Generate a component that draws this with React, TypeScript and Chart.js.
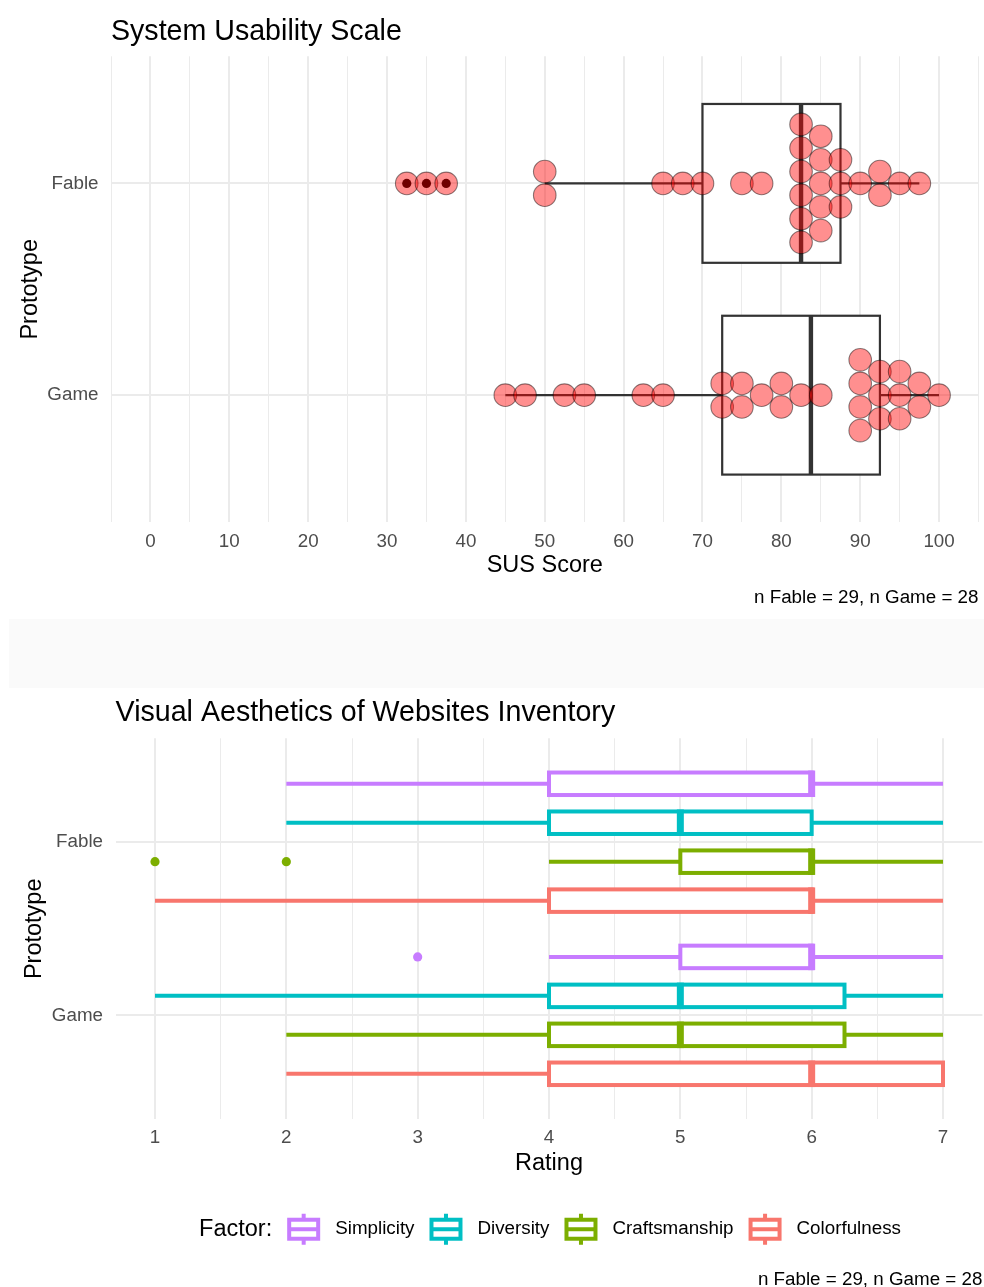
import React, { useEffect, useRef } from 'react';
import { Chart, registerables } from 'chart.js';

Chart.register(...registerables);

const FONT = '"Liberation Sans", Arial, Helvetica, sans-serif';
Chart.defaults.font.family = FONT;
Chart.defaults.color = '#000000';

// ---------- System Usability Scale data ----------
const prototypeLabels = ['Game', 'Fable']; // y positions 1, 2
const susFable = [
  32.5, 35, 37.5, 50, 50, 65, 67.5, 70, 75, 77.5,
  82.5, 82.5, 82.5, 82.5, 82.5, 82.5,
  85, 85, 85, 85, 85,
  87.5, 87.5, 87.5, 90, 92.5, 92.5, 95, 97.5,
];
const susGame = [
  45, 47.5, 52.5, 55, 62.5, 65, 72.5, 72.5, 75, 75, 77.5, 80, 80, 82.5, 85,
  90, 90, 90, 90, 92.5, 92.5, 92.5, 95, 95, 95, 97.5, 97.5, 100,
];
const susTickLabels = ['0', '10', '20', '30', '40', '50', '60', '70', '80', '90', '100'];

const factors = ['Simplicity', 'Diversity', 'Craftsmanship', 'Colorfulness'];
const factorColors = ['#C77CFF', '#00BFC4', '#7CAE00', '#F8766D'];
const fableLow = [2, 2, 4, 1];
const fableQ1 = [4, 4, 5, 4];
const fableMedian = [6, 5, 6, 6];
const fableQ3 = [6, 6, 6, 6];
const fableHigh = [7, 7, 7, 7];
const fableOutliers = [[], [], [1, 2], []];
const gameLow = [4, 1, 2, 2];
const gameQ1 = [5, 4, 4, 4];
const gameMedian = [6, 5, 5, 6];
const gameQ3 = [6, 6.25, 6.25, 7];
const gameHigh = [7, 7, 7, 7];
const gameOutliers = [[3], [], [], []];
const ratingTickLabels = ['1', '2', '3', '4', '5', '6', '7'];

const captionText = 'n Fable = 29, n Game = 28';

// ---------- helpers ----------
const GRID = '#EBEBEB';
const TICK_COLOR = '#4D4D4D';
const DOT_STEP = 0.1113; // stacking step in category units
const SUS_BOX_HALF = 0.375;
const VAWI_BOX_HALF = 0.065;
const DODGE = [0.3375, 0.1125, -0.1125, -0.3375];

function quantile(sorted: number[], p: number) {
  const h = (sorted.length - 1) * p;
  const lo = Math.floor(h);
  const hi = Math.ceil(h);
  return sorted[lo] + (h - lo) * (sorted[hi] - sorted[lo]);
}

function boxStats(values: number[]) {
  const s = [...values].sort((a, b) => a - b);
  const q1 = quantile(s, 0.25);
  const med = quantile(s, 0.5);
  const q3 = quantile(s, 0.75);
  const iqr = q3 - q1;
  const lf = q1 - 1.5 * iqr;
  const hf = q3 + 1.5 * iqr;
  const inside = s.filter((v) => v >= lf && v <= hf);
  return {
    q1, med, q3,
    lo: inside[0],
    hi: inside[inside.length - 1],
    outliers: s.filter((v) => v < lf || v > hf),
  };
}

function stackDots(values: number[], pos: number) {
  const counts = new Map<number, number>();
  values.forEach((v) => counts.set(v, (counts.get(v) || 0) + 1));
  const pts: { x: number; y: number }[] = [];
  counts.forEach((n, v) => {
    for (let i = 0; i < n; i++) pts.push({ x: v, y: pos + (i - (n - 1) / 2) * DOT_STEP });
  });
  return pts;
}

function range(a: number, b: number, step: number) {
  const out: number[] = [];
  for (let v = a; v <= b + 1e-9; v += step) out.push(Math.round(v * 1000) / 1000);
  return out;
}

const susSeries = [
  { values: susGame, pos: 1 },
  { values: susFable, pos: 2 },
];

// ---------- plugins ----------
const susBoxPlugin = {
  id: 'susBoxes',
  beforeDatasetsDraw(chart: any) {
    const { ctx } = chart;
    const x = chart.scales.x;
    const y = chart.scales.y;
    ctx.save();
    susSeries.forEach(({ values, pos }) => {
      const st = boxStats(values);
      const yc = y.getPixelForValue(pos);
      const yt = y.getPixelForValue(pos + SUS_BOX_HALF);
      const yb = y.getPixelForValue(pos - SUS_BOX_HALF);
      ctx.strokeStyle = '#333333';
      ctx.lineWidth = 2.2;
      ctx.beginPath();
      ctx.moveTo(x.getPixelForValue(st.lo), yc);
      ctx.lineTo(x.getPixelForValue(st.q1), yc);
      ctx.moveTo(x.getPixelForValue(st.q3), yc);
      ctx.lineTo(x.getPixelForValue(st.hi), yc);
      ctx.stroke();
      const x1 = x.getPixelForValue(st.q1);
      const x3 = x.getPixelForValue(st.q3);
      ctx.fillStyle = '#FFFFFF';
      ctx.fillRect(x1, yt, x3 - x1, yb - yt);
      ctx.strokeRect(x1, yt, x3 - x1, yb - yt);
      ctx.lineWidth = 4.4;
      ctx.beginPath();
      const xm = x.getPixelForValue(st.med);
      ctx.moveTo(xm, yt);
      ctx.lineTo(xm, yb);
      ctx.stroke();
    });
    ctx.restore();
  },
};

const vawiGroups = [
  { pos: 2, low: fableLow, q1: fableQ1, med: fableMedian, q3: fableQ3, high: fableHigh },
  { pos: 1, low: gameLow, q1: gameQ1, med: gameMedian, q3: gameQ3, high: gameHigh },
];

const vawiBoxPlugin = {
  id: 'vawiBoxes',
  beforeDatasetsDraw(chart: any) {
    const { ctx } = chart;
    const x = chart.scales.x;
    const y = chart.scales.y;
    ctx.save();
    ctx.lineCap = 'butt';
    vawiGroups.forEach((g) => {
      factors.forEach((_, i) => {
        const p = g.pos + DODGE[i];
        const yc = y.getPixelForValue(p);
        const yt = y.getPixelForValue(p + VAWI_BOX_HALF);
        const yb = y.getPixelForValue(p - VAWI_BOX_HALF);
        const x1 = x.getPixelForValue(g.q1[i]);
        const x3 = x.getPixelForValue(g.q3[i]);
        ctx.strokeStyle = factorColors[i];
        ctx.lineWidth = 4;
        ctx.beginPath();
        ctx.moveTo(x.getPixelForValue(g.low[i]), yc);
        ctx.lineTo(x1, yc);
        ctx.moveTo(x3, yc);
        ctx.lineTo(x.getPixelForValue(g.high[i]), yc);
        ctx.stroke();
        ctx.fillStyle = '#FFFFFF';
        ctx.fillRect(x1, yt, x3 - x1, yb - yt);
        ctx.strokeRect(x1, yt, x3 - x1, yb - yt);
        const xm = x.getPixelForValue(g.med[i]);
        ctx.lineWidth = 7;
        ctx.beginPath();
        ctx.moveTo(xm, yt - 2);
        ctx.lineTo(xm, yb + 2);
        ctx.stroke();
      });
    });
    ctx.restore();
  },
};

const factorLegendPlugin = {
  id: 'factorLegend',
  afterDraw(chart: any) {
    const { ctx, chartArea } = chart;
    const cy = chart.scales.x.bottom + 50;
    const KEY = 33;
    const GAP = 15;
    ctx.save();
    ctx.textBaseline = 'middle';
    ctx.textAlign = 'left';
    ctx.font = `23.5px ${FONT}`;
    const titleW = ctx.measureText('Factor:').width;
    ctx.font = `18.8px ${FONT}`;
    const widths = factors.map((f) => ctx.measureText(f).width);
    const total = titleW + widths.reduce((a, w) => a + w + GAP + KEY + GAP, 0);
    let cx = (chartArea.left + chartArea.right) / 2 + 1 - total / 2;
    ctx.fillStyle = '#000000';
    ctx.font = `23.5px ${FONT}`;
    ctx.fillText('Factor:', cx, cy);
    cx += titleW + GAP;
    factors.forEach((f, i) => {
      const kx = cx + KEY / 2;
      ctx.strokeStyle = factorColors[i];
      ctx.lineWidth = 4;
      ctx.beginPath();
      ctx.moveTo(kx, cy - 15.5);
      ctx.lineTo(kx, cy - 9.5);
      ctx.moveTo(kx, cy + 9.5);
      ctx.lineTo(kx, cy + 15.5);
      ctx.stroke();
      ctx.fillStyle = '#FFFFFF';
      ctx.fillRect(kx - 14.5, cy - 9.5, 29, 19);
      ctx.strokeRect(kx - 14.5, cy - 9.5, 29, 19);
      ctx.beginPath();
      ctx.moveTo(kx - 14.5, cy);
      ctx.lineTo(kx + 14.5, cy);
      ctx.stroke();
      cx += KEY + GAP;
      ctx.fillStyle = '#000000';
      ctx.font = `18.8px ${FONT}`;
      ctx.fillText(f, cx, cy);
      cx += widths[i] + GAP;
    });
    ctx.restore();
  },
};

const noEdgePadding = (s: any) => {
  s.height = 60;
  s.paddingLeft = 0;
  s.paddingRight = 0;
};

// ---------- chart configs ----------
function susConfig(): any {
  const outlierPts: { x: number; y: number }[] = [];
  susSeries.forEach(({ values, pos }) => {
    boxStats(values).outliers.forEach((v) => outlierPts.push({ x: v, y: pos }));
  });
  const dots = [...stackDots(susGame, 1), ...stackDots(susFable, 2)];
  return {
    type: 'scatter',
    data: {
      datasets: [
        {
          label: 'SUS',
          data: dots,
          order: 0,
          pointRadius: 11.3,
          pointBorderWidth: 1.1,
          backgroundColor: 'rgba(255,0,0,0.44)',
          borderColor: 'rgba(0,0,0,0.45)',
          pointBackgroundColor: 'rgba(255,0,0,0.44)',
          pointBorderColor: 'rgba(0,0,0,0.45)',
        },
        {
          label: 'Outliers',
          data: outlierPts,
          order: 1,
          pointRadius: 4.6,
          pointBorderWidth: 0,
          backgroundColor: '#000000',
          pointBackgroundColor: '#000000',
        },
      ],
    },
    options: {
      responsive: true,
      maintainAspectRatio: false,
      animation: false,
      events: [],
      layout: { autoPadding: false, padding: { left: 0, right: 5.5, top: 0, bottom: 0 } },
      plugins: {
        legend: { display: false },
        tooltip: { enabled: false },
        title: {
          display: true,
          text: 'System Usability Scale',
          align: 'start',
          fullSize: false,
          color: '#000000',
          font: { size: 28.6, weight: 'normal', family: FONT },
          padding: { top: 14.5, bottom: 7.5 },
        },
        subtitle: {
          display: true,
          text: captionText,
          position: 'bottom',
          align: 'end',
          fullSize: false,
          color: '#000000',
          font: { size: 18.8, weight: 'normal', family: FONT },
          padding: { top: 4.4, bottom: 9.8 },
        },
      },
      scales: {
        x: {
          type: 'linear',
          min: -5,
          max: 105,
          afterBuildTicks: (s: any) => {
            s.ticks = range(-5, 105, 5).map((v) => ({ value: v }));
          },
          afterFit: noEdgePadding,
          ticks: {
            autoSkip: false,
            maxRotation: 0,
            padding: 8.3,
            color: TICK_COLOR,
            font: { size: 18.8, family: FONT },
            callback: (v: number) => {
              const idx = susTickLabels.indexOf(String(v));
              return idx >= 0 ? susTickLabels[idx] : '';
            },
          },
          grid: {
            drawTicks: false,
            color: GRID,
            lineWidth: (c: any) => (c.tick && c.tick.value % 10 === 0 ? 2 : 1),
          },
          border: { display: false },
          title: {
            display: true,
            text: 'SUS Score',
            color: '#000000',
            font: { size: 23.5, family: FONT },
            padding: { top: 0, bottom: 2.2 },
          },
        },
        y: {
          type: 'linear',
          min: 0.4,
          max: 2.6,
          afterBuildTicks: (s: any) => {
            s.ticks = [{ value: 1 }, { value: 2 }];
          },
          afterFit: (s: any) => {
            s.width = 111;
          },
          ticks: {
            autoSkip: false,
            padding: 12.5,
            color: TICK_COLOR,
            font: { size: 18.8, family: FONT },
            callback: (v: number) => prototypeLabels[Math.round(v) - 1] || '',
          },
          grid: { drawTicks: false, color: GRID, lineWidth: 2 },
          border: { display: false },
          title: {
            display: true,
            text: 'Prototype',
            color: '#000000',
            font: { size: 23.5, family: FONT },
            padding: { top: 16, bottom: 0 },
          },
        },
      },
    },
    plugins: [susBoxPlugin],
  };
}

function vawiConfig(): any {
  const datasets = factors.map((f, i) => {
    const pts: { x: number; y: number }[] = [];
    fableOutliers[i].forEach((v) => pts.push({ x: v, y: 2 + DODGE[i] }));
    gameOutliers[i].forEach((v) => pts.push({ x: v, y: 1 + DODGE[i] }));
    return {
      label: f,
      data: pts,
      pointRadius: 4.6,
      pointBorderWidth: 0,
      backgroundColor: factorColors[i],
      pointBackgroundColor: factorColors[i],
    };
  });
  return {
    type: 'scatter',
    data: { datasets },
    options: {
      responsive: true,
      maintainAspectRatio: false,
      animation: false,
      events: [],
      layout: { autoPadding: false, padding: { left: 0, right: 1.6, top: 0, bottom: 0 } },
      plugins: {
        legend: { display: false },
        tooltip: { enabled: false },
        title: {
          display: true,
          text: 'Visual Aesthetics of Websites Inventory',
          align: 'start',
          fullSize: false,
          color: '#000000',
          font: { size: 28.6, weight: 'normal', family: FONT },
          padding: { top: 8, bottom: 8 },
        },
        subtitle: {
          display: true,
          text: captionText,
          position: 'bottom',
          align: 'end',
          fullSize: false,
          color: '#000000',
          font: { size: 18.8, weight: 'normal', family: FONT },
          padding: { top: 89, bottom: 9.2 },
        },
      },
      scales: {
        x: {
          type: 'linear',
          min: 0.7,
          max: 7.3,
          afterBuildTicks: (s: any) => {
            s.ticks = range(1, 7, 0.5).map((v) => ({ value: v }));
          },
          afterFit: noEdgePadding,
          ticks: {
            autoSkip: false,
            maxRotation: 0,
            padding: 7.5,
            color: TICK_COLOR,
            font: { size: 18.8, family: FONT },
            callback: (v: number) => {
              const idx = ratingTickLabels.indexOf(String(v));
              return idx >= 0 ? ratingTickLabels[idx] : '';
            },
          },
          grid: {
            drawTicks: false,
            color: GRID,
            lineWidth: (c: any) => (c.tick && Number.isInteger(c.tick.value) ? 2 : 1),
          },
          border: { display: false },
          title: {
            display: true,
            text: 'Rating',
            color: '#000000',
            font: { size: 23.5, family: FONT },
            padding: { top: 0, bottom: 1.5 },
          },
        },
        y: {
          type: 'linear',
          min: 0.4,
          max: 2.6,
          afterBuildTicks: (s: any) => {
            s.ticks = [{ value: 1 }, { value: 2 }];
          },
          afterFit: (s: any) => {
            s.width = 115.6;
          },
          ticks: {
            autoSkip: false,
            padding: 12.6,
            color: TICK_COLOR,
            font: { size: 18.8, family: FONT },
            callback: (v: number) => prototypeLabels[Math.round(v) - 1] || '',
          },
          grid: { drawTicks: false, color: GRID, lineWidth: 2 },
          border: { display: false },
          title: {
            display: true,
            text: 'Prototype',
            color: '#000000',
            font: { size: 23.5, family: FONT },
            padding: { top: 20, bottom: 0 },
          },
        },
      },
    },
    plugins: [vawiBoxPlugin, factorLegendPlugin],
  };
}

export default function App() {
  const topRef = useRef<HTMLCanvasElement | null>(null);
  const botRef = useRef<HTMLCanvasElement | null>(null);

  useEffect(() => {
    const c1 = new Chart(topRef.current as HTMLCanvasElement, susConfig());
    const c2 = new Chart(botRef.current as HTMLCanvasElement, vawiConfig());
    return () => {
      c1.destroy();
      c2.destroy();
    };
  }, []);

  return (
    <div
      style={{
        position: 'absolute',
        left: 0,
        top: 0,
        width: 984,
        height: 1287,
        overflow: 'hidden',
        background: '#FFFFFF',
      }}
    >
      <div style={{ position: 'absolute', left: 0, top: 0, width: 984, height: 619 }}>
        <canvas ref={topRef} />
      </div>
      <div
        style={{
          position: 'absolute',
          left: 9,
          top: 619,
          width: 975,
          height: 69,
          background: '#FAFAFA',
        }}
      />
      <div style={{ position: 'absolute', left: 0, top: 688, width: 984, height: 612 }}>
        <canvas ref={botRef} />
      </div>
    </div>
  );
}
